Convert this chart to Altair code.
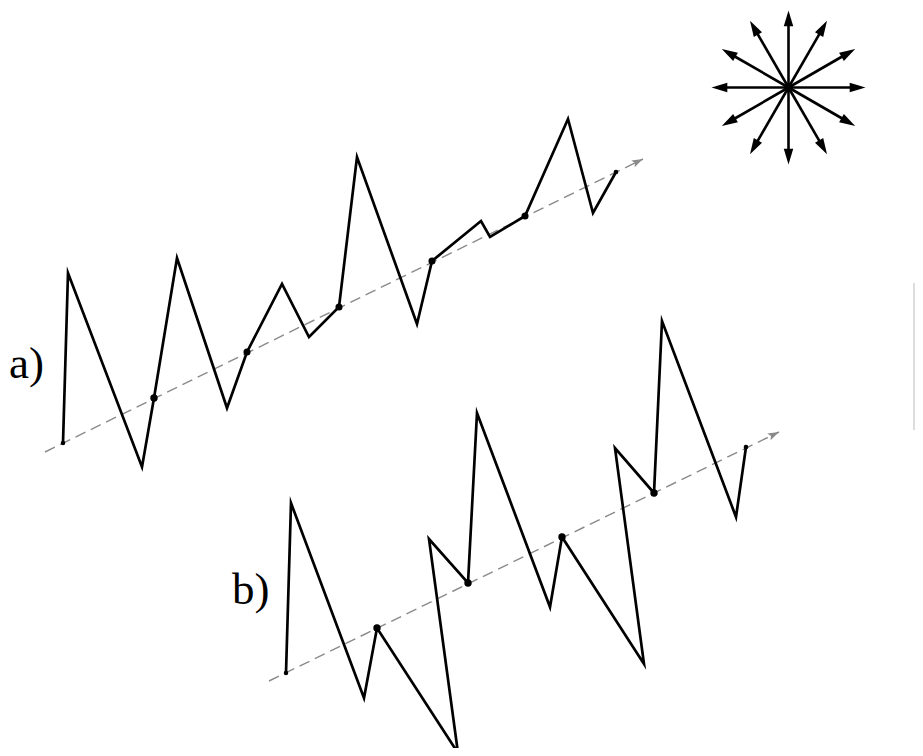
import altair as alt
import pandas as pd

# ---- data (page pixel coordinates) ----
# zigzag path a)
a_x = [63, 68, 142, 154, 177, 227, 247, 282, 309, 339, 357, 417, 432, 481, 490, 525, 568, 593, 616]
a_y = [443, 273, 467, 398, 258, 408, 352, 284, 337, 307, 157, 324, 261, 221, 237, 216, 119, 213, 172]
# zigzag path b)
b_x = [286, 291, 364, 377, 458, 429, 468, 477, 550, 562, 644, 615, 654, 662, 736, 746]
b_y = [673, 503, 698, 628, 753, 539, 583, 413, 607, 537, 664, 448, 493, 321, 517, 447]
# marked points on the dashed axes
a_dot_x = [63, 154, 247, 339, 432, 525, 616]
a_dot_y = [443, 398, 352, 307, 261, 216, 172]
a_dot_s = [20, 55, 50, 50, 50, 50, 22]
b_dot_x = [286, 377, 468, 562, 654, 746]
b_dot_y = [673, 628, 583, 537, 493, 447]
b_dot_s = [20, 55, 55, 55, 55, 22]
# dashed axis arrows
axis_names = ["a", "b"]
axis_x0 = [45, 269]
axis_y0 = [452, 681]
axis_x1 = [643, 779]
axis_y1 = [159, 432]
# labels
label_text = ["a)", "b)"]
label_x = [9, 232]
label_y = [378, 604]
# star of directions
star_cx = 788.5
star_cy = 87.5
star_len = 77
star_angles = [0, 30, 60, 90, 120, 150, 180, 210, 240, 270, 300, 330]

W, H = 907, 740
xs = alt.Scale(domain=[8, 8 + W], nice=False, zero=False)
ys = alt.Scale(domain=[8, 8 + H], nice=False, zero=False, reverse=True)
X = lambda f: alt.X(f, type="quantitative", scale=xs, axis=None)
Y = lambda f: alt.Y(f, type="quantitative", scale=ys, axis=None)

path_df = pd.concat([
    pd.DataFrame({"x": a_x, "y": a_y, "s": "a", "i": range(len(a_x))}),
    pd.DataFrame({"x": b_x, "y": b_y, "s": "b", "i": range(len(b_x))}),
])
dot_df = pd.concat([
    pd.DataFrame({"x": a_dot_x, "y": a_dot_y, "size": a_dot_s}),
    pd.DataFrame({"x": b_dot_x, "y": b_dot_y, "size": b_dot_s}),
])
axis_df = pd.DataFrame({"name": axis_names, "x0": axis_x0, "y0": axis_y0,
                        "x1": axis_x1, "y1": axis_y1})
label_df = pd.DataFrame({"t": label_text, "x": label_x, "y": label_y})
star_df = pd.DataFrame({"th": star_angles})

arrow_shape = "M0,0L-1,-0.3L-1,0.3Z"

dashed = alt.Chart(axis_df).mark_rule(
    color="#8a8a8a", strokeWidth=1.4, strokeDash=[11, 6]
).encode(x=X("x0"), y=Y("y0"), x2="x1", y2="y1")

dash_heads = alt.Chart(axis_df).transform_calculate(
    ang="(360 - atan2(datum.y0 - datum.y1, datum.x1 - datum.x0) * 180 / PI) % 360"
).mark_point(
    shape="M0,0L-1,-0.33L-0.8,0L-1,0.33Z", filled=True, color="#8a8a8a", size=500, opacity=1
).encode(x=X("x1"), y=Y("y1"), angle=alt.Angle("ang:Q", scale=None))

paths = alt.Chart(path_df).mark_line(
    color="black", strokeWidth=2.7, strokeJoin="miter", strokeMiterLimit=10
).encode(x=X("x"), y=Y("y"), detail="s:N", order=alt.Order("i:Q"))

dots = alt.Chart(dot_df).mark_circle(color="black", opacity=1).encode(
    x=X("x"), y=Y("y"), size=alt.Size("size:Q", scale=None, legend=None)
)

labels = alt.Chart(label_df).mark_text(
    font="Liberation Serif", fontSize=45, align="left", baseline="alphabetic", color="black"
).encode(x=X("x"), y=Y("y"), text="t:N")

star_base = alt.Chart(star_df).transform_calculate(
    cx=f"{star_cx}", cy=f"{star_cy}",
    lx=f"{star_cx} + {star_len - 9} * cos(datum.th * PI / 180)",
    ly=f"{star_cy} - {star_len - 9} * sin(datum.th * PI / 180)",
    tx=f"{star_cx} + {star_len} * cos(datum.th * PI / 180)",
    ty=f"{star_cy} - {star_len} * sin(datum.th * PI / 180)",
    ang="(360 - datum.th) % 360",
)
star_lines = star_base.mark_rule(color="black", strokeWidth=2.6).encode(
    x=X("cx"), y=Y("cy"), x2="lx", y2="ly"
)
star_heads = star_base.mark_point(
    shape=arrow_shape, filled=True, color="black", size=1000, opacity=1
).encode(x=X("tx"), y=Y("ty"), angle=alt.Angle("ang:Q", scale=None))
star_center = alt.Chart(pd.DataFrame({"x": [star_cx], "y": [star_cy]})).mark_circle(
    color="black", size=70, opacity=1
).encode(x=X("x"), y=Y("y"))

edge = alt.Chart(pd.DataFrame({"x": [914], "y0": [283], "y1": [430]})).mark_rule(
    color="#bbbbbb", strokeWidth=1
).encode(x=X("x"), y=Y("y0"), y2="y1")

chart = alt.layer(
    dashed, dash_heads, paths, dots, labels, star_lines, star_heads, star_center, edge
).properties(
    width=W, height=H, autosize=alt.AutoSizeParams(type="none"), padding=0,
    background="white"
).configure_view(stroke=None)

chart.save("out.html", embed_options={"renderer": "svg", "actions": False})
